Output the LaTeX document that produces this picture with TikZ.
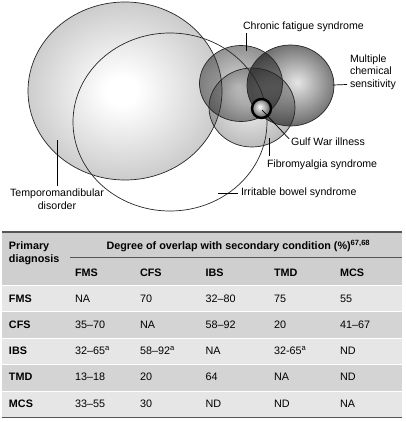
\documentclass[tikz,border=0pt]{standalone}
\usepackage{fontspec}
\setmainfont{Liberation Sans}
\pgfdeclareradialshading{tmdshade}{\pgfpoint{-1bp}{0bp}}{color(0bp)=(white); color(4bp)=(white); color(25bp)=(black!20); color(50bp)=(black!20)}
\pgfdeclareradialshading{cfsshade}{\pgfpoint{-2bp}{-2bp}}{color(0bp)=(black!14); color(25bp)=(black!42); color(50bp)=(black!42)}
\pgfdeclareradialshading{mcsshade}{\pgfpoint{4bp}{2bp}}{color(0bp)=(black!10); color(25bp)=(black!56); color(50bp)=(black!56)}
\pgfdeclareradialshading{fmsshade}{\pgfpoint{-2bp}{2bp}}{color(0bp)=(black!5); color(25bp)=(black!26); color(50bp)=(black!26)}
\pgfdeclareradialshading{gwishade}{\pgfpoint{-5bp}{5bp}}{color(0bp)=(white); color(25bp)=(black!60); color(50bp)=(black!60)}
\definecolor{hdrgray}{HTML}{CFCFCF}
\definecolor{rowlight}{HTML}{E6E6E6}
\definecolor{rowdark}{HTML}{D4D4D4}
\definecolor{rulegray}{HTML}{555555}
\begin{document}
\begin{tikzpicture}[x=1pt,y=-1pt,
  every node/.style={inner sep=0pt, outer sep=0pt},
  lbl/.style={font=\fontsize{10.6}{13}\selectfont, text height=7.5pt, text depth=2pt},
  tb/.style={font=\fontsize{10.8}{13}\selectfont, anchor=base west},
  tbb/.style={font=\fontsize{10.8}{13}\selectfont\bfseries, anchor=base west},
  leader/.style={draw=black, line width=0.7pt},
  outline/.style={draw=black!85, line width=0.7pt},
  blendm/.style={blend mode=multiply},
]
\useasboundingbox (0,0) rectangle (405,422);

% ---- Venn-like ellipses ----
\shade[shading=tmdshade] (125,91) ellipse [x radius=97pt, y radius=89pt];
\begin{scope}[blendm]
\shade[shading=cfsshade] (241,83.5) ellipse [x radius=41.5pt, y radius=38pt];
\shade[shading=mcsshade] (290.5,85.5) ellipse [x radius=43.5pt, y radius=40.5pt];
\shade[shading=fmsshade] (252,107.5) ellipse [x radius=43pt, y radius=39.5pt];
\end{scope}
\draw[outline] (125,91) ellipse [x radius=97pt, y radius=89pt];
\draw[outline] (170,122) ellipse [x radius=97pt, y radius=89pt];
\draw[outline] (241,83.5) ellipse [x radius=41.5pt, y radius=38pt];
\draw[outline] (290.5,85.5) ellipse [x radius=43.5pt, y radius=40.5pt];
\draw[outline] (252,107.5) ellipse [x radius=43pt, y radius=39.5pt];
\shade[shading=gwishade] (261.5,108.5) circle [radius=9.5pt];
\draw[black, line width=2.4pt] (261.5,108.5) circle [radius=9.5pt];

% ---- labels and leaders ----
\coordinate (cfsPt) at (246,51);
\coordinate (mcsPt) at (333,85);
\coordinate (gwiPt) at (262,110);
\coordinate (fmsPt) at (269,138);
\coordinate (ibsPt) at (218,193);
\coordinate (tmdPt) at (57,140);

\node[lbl, anchor=west] (cfsL) at (243,27) {Chronic fatigue syndrome};
\node[lbl, anchor=west, align=left, font=\fontsize{10.6}{12.5}\selectfont] (mcsL) at (350,84.5) {Multiple\\chemical\\sensitivity};
\node[lbl, anchor=west] (gwiL) at (291,143) {Gulf War illness};
\node[lbl, anchor=west] (fmsL) at (267,165) {Fibromyalgia syndrome};
\node[lbl, anchor=west] (ibsL) at (241,193) {Irritable bowel syndrome};
\node[anchor=north, align=center, font=\fontsize{10.6}{13}\selectfont] (tmdL) at (57,189) {Temporomandibular\\disorder};

\draw[leader] ([yshift=-1.5pt]cfsPt |- cfsL.south) -- (cfsPt);
\draw[leader] (mcsPt) -- ([xshift=-3pt]mcsL.west);
\draw[leader] (gwiPt) -- ([xshift=-2pt,yshift=-0.5pt]gwiL.north west);
\draw[leader] (fmsPt) -- ([yshift=4pt]fmsPt |- fmsL.north);
\draw[leader] (ibsPt) -- ([xshift=-3pt]ibsL.west);
\draw[leader] (tmdPt) -- ([yshift=3pt]tmdL.north);

% ---- table ----
\fill[hdrgray] (2,232) rectangle (402,284.5);
\fill[rowlight] (2,285.5) rectangle (402,311);
\fill[rowdark]  (2,312) rectangle (402,337.5);
\fill[rowlight] (2,338.5) rectangle (402,364);
\fill[rowdark]  (2,365) rectangle (402,390.5);
\fill[rowlight] (2,391.5) rectangle (402,417);
\draw[rulegray, line width=2pt] (2,232) -- (402,232);
\draw[rulegray, line width=1.1pt] (70,257.5) -- (402,257.5);
\draw[rulegray, line width=1.2pt] (2,417.5) -- (402,417.5);

\node[tbb] (hP) at (9,249.3) {Primary};
\node[tbb] (hD) at (9,262.3) {diagnosis};
\node[tbb] (hDeg) at (106.5,249.3) {Degree of overlap with secondary condition (\%)\textsuperscript{67,68}};
\node[tbb] (c1) at (75,276.7) {FMS};
\node[tbb] (c2) at (140,276.7) {CFS};
\node[tbb] (c3) at (205.5,276.7) {IBS};
\node[tbb] (c4) at (274,276.7) {TMD};
\node[tbb] (c5) at (340,276.7) {MCS};

\node[tbb] (r1) at (9,302) {FMS};
\node[tb] (r1a) at (75,302) {NA};
\node[tb] (r1b) at (140,302) {70};
\node[tb] (r1c) at (205.5,302) {32–80};
\node[tb] (r1d) at (274,302) {75};
\node[tb] (r1e) at (340,302) {55};

\node[tbb] (r2) at (9,328.3) {CFS};
\node[tb] (r2a) at (75,328.3) {35–70};
\node[tb] (r2b) at (140,328.3) {NA};
\node[tb] (r2c) at (205.5,328.3) {58–92};
\node[tb] (r2d) at (274,328.3) {20};
\node[tb] (r2e) at (340,328.3) {41–67};

\node[tbb] (r3) at (9,354.6) {IBS};
\node[tb] (r3a) at (75,354.6) {32–65\textsuperscript{a}};
\node[tb] (r3b) at (140,354.6) {58–92\textsuperscript{a}};
\node[tb] (r3c) at (205.5,354.6) {NA};
\node[tb] (r3d) at (274,354.6) {32-65\textsuperscript{a}};
\node[tb] (r3e) at (340,354.6) {ND};

\node[tbb] (r4) at (9,380.9) {TMD};
\node[tb] (r4a) at (75,380.9) {13–18};
\node[tb] (r4b) at (140,380.9) {20};
\node[tb] (r4c) at (205.5,380.9) {64};
\node[tb] (r4d) at (274,380.9) {NA};
\node[tb] (r4e) at (340,380.9) {ND};

\node[tbb] (r5) at (9,407.2) {MCS};
\node[tb] (r5a) at (75,407.2) {33–55};
\node[tb] (r5b) at (140,407.2) {30};
\node[tb] (r5c) at (205.5,407.2) {ND};
\node[tb] (r5d) at (274,407.2) {ND};
\node[tb] (r5e) at (340,407.2) {NA};
\end{tikzpicture}
\end{document}
